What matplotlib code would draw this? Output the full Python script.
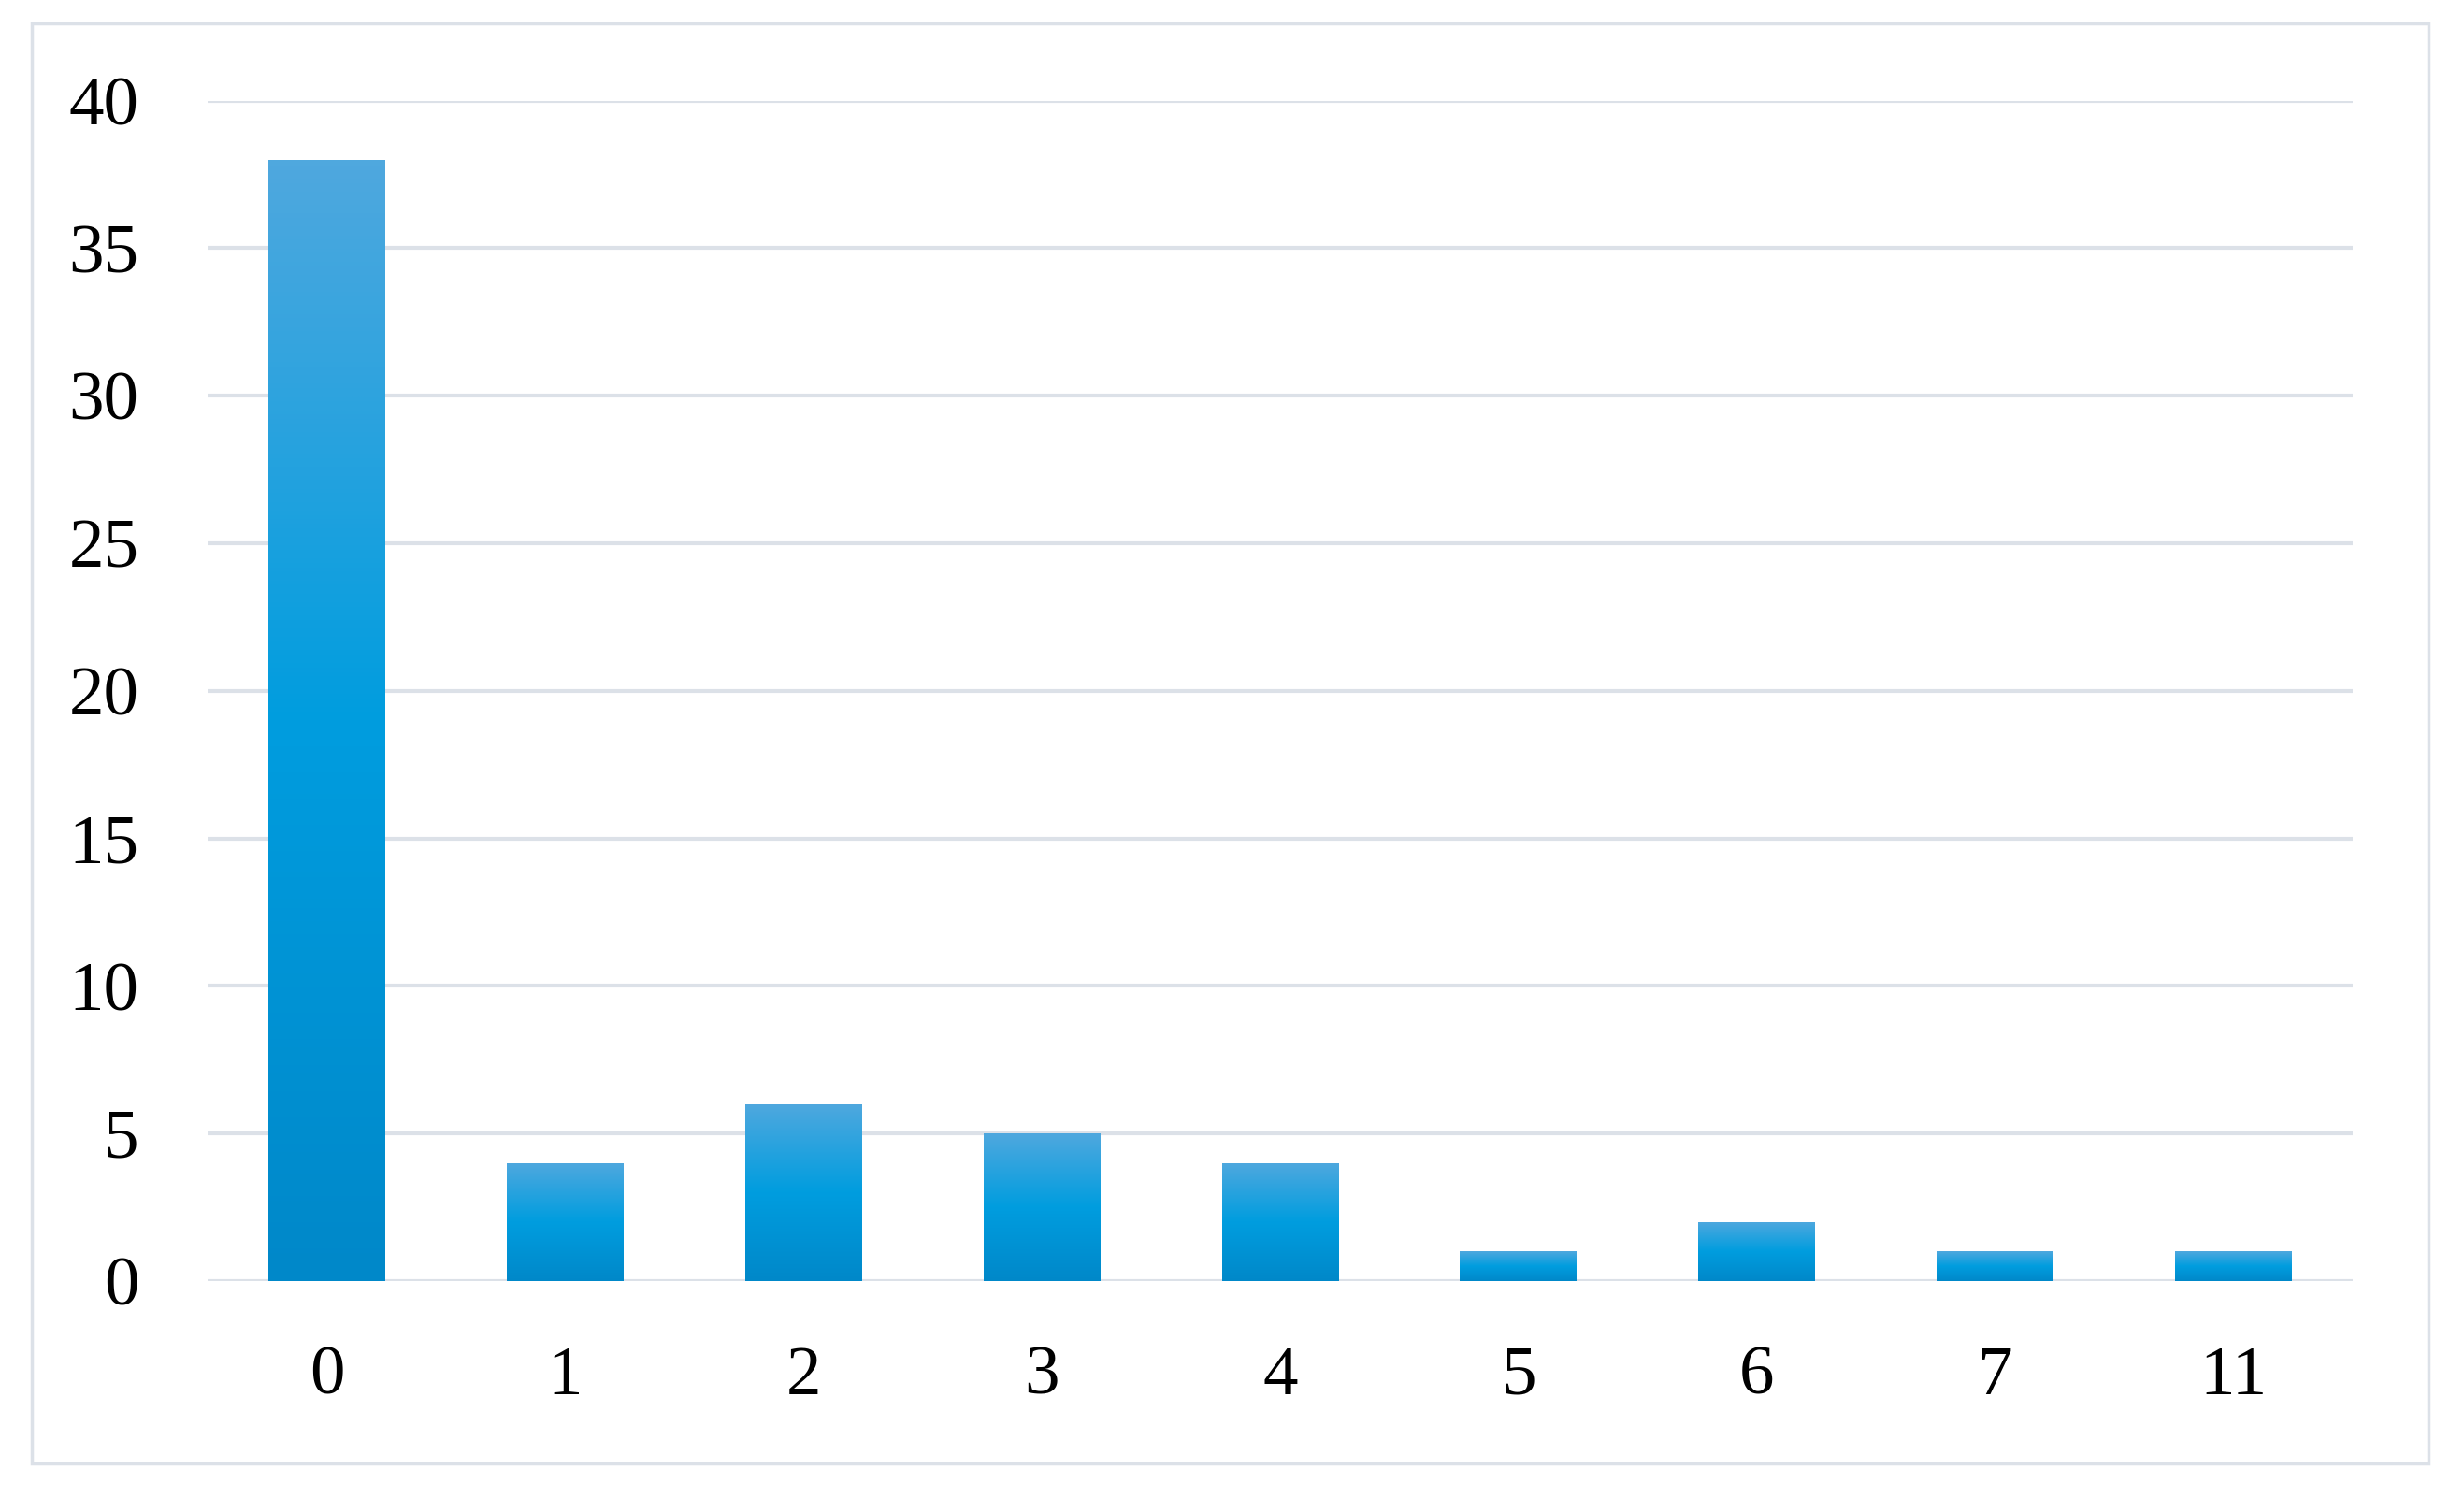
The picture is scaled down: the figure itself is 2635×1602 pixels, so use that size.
import matplotlib
matplotlib.use("Agg")
import matplotlib.pyplot as plt
import numpy as np
from matplotlib.colors import LinearSegmentedColormap
from matplotlib.patches import Rectangle

categories = ["0", "1", "2", "3", "4", "5", "6", "7", "11"]
values = [38, 4, 6, 5, 4, 1, 2, 1, 1]
yticks = [0, 5, 10, 15, 20, 25, 30, 35, 40]

W, H, DPI = 2635, 1602, 100
fig = plt.figure(figsize=(W / DPI, H / DPI), dpi=DPI, facecolor="white")
ax = fig.add_axes([222 / W, 232 / H, (2516 - 222) / W, (1494.5 - 232) / H])

grid_color = "#DCE1E8"
x = np.arange(len(categories))
bars = ax.bar(x, values, width=0.49, color="#009BDD", zorder=2)

# vertical gradient inside each bar (light on top, darker at bottom)
cmap = LinearSegmentedColormap.from_list(
    "bar", [(0.0, "#0088C9"), (0.5, "#009DDF"), (1.0, "#4FA8DE")])
grad = np.linspace(0, 1, 256).reshape(-1, 1)
for b in bars:
    x0, y0 = b.get_x(), b.get_y()
    w, h = b.get_width(), b.get_height()
    b.set_facecolor("none")
    im = ax.imshow(grad, cmap=cmap, origin="lower", aspect="auto",
                   extent=[x0, x0 + w, y0, y0 + h], zorder=2.5,
                   interpolation="bilinear")
    im.set_clip_path(b)

ax.set_xlim(-0.5, len(categories) - 0.5)
ax.set_ylim(0, 40)
ax.set_yticks(yticks)
ax.set_xticks(x)
ax.set_xticklabels(categories)
for s in ax.spines.values():
    s.set_visible(False)
ax.yaxis.grid(True, color=grid_color, linewidth=3.0, zorder=0)
ax.set_axisbelow(True)
ax.tick_params(axis="both", length=0, labelsize=54, labelcolor="black")
ax.tick_params(axis="y", pad=53)
ax.tick_params(axis="x", pad=50)
for lab in ax.get_xticklabels() + ax.get_yticklabels():
    lab.set_fontfamily(["Liberation Serif", "DejaVu Serif"])

border = Rectangle((34 / W, 1 - 1565 / H), (2597 - 34) / W, (1565 - 25) / H,
                   transform=fig.transFigure, fill=False,
                   edgecolor=grid_color, linewidth=2.5)
fig.patches.append(border)

fig.savefig("out.png", dpi=DPI, facecolor="white")
